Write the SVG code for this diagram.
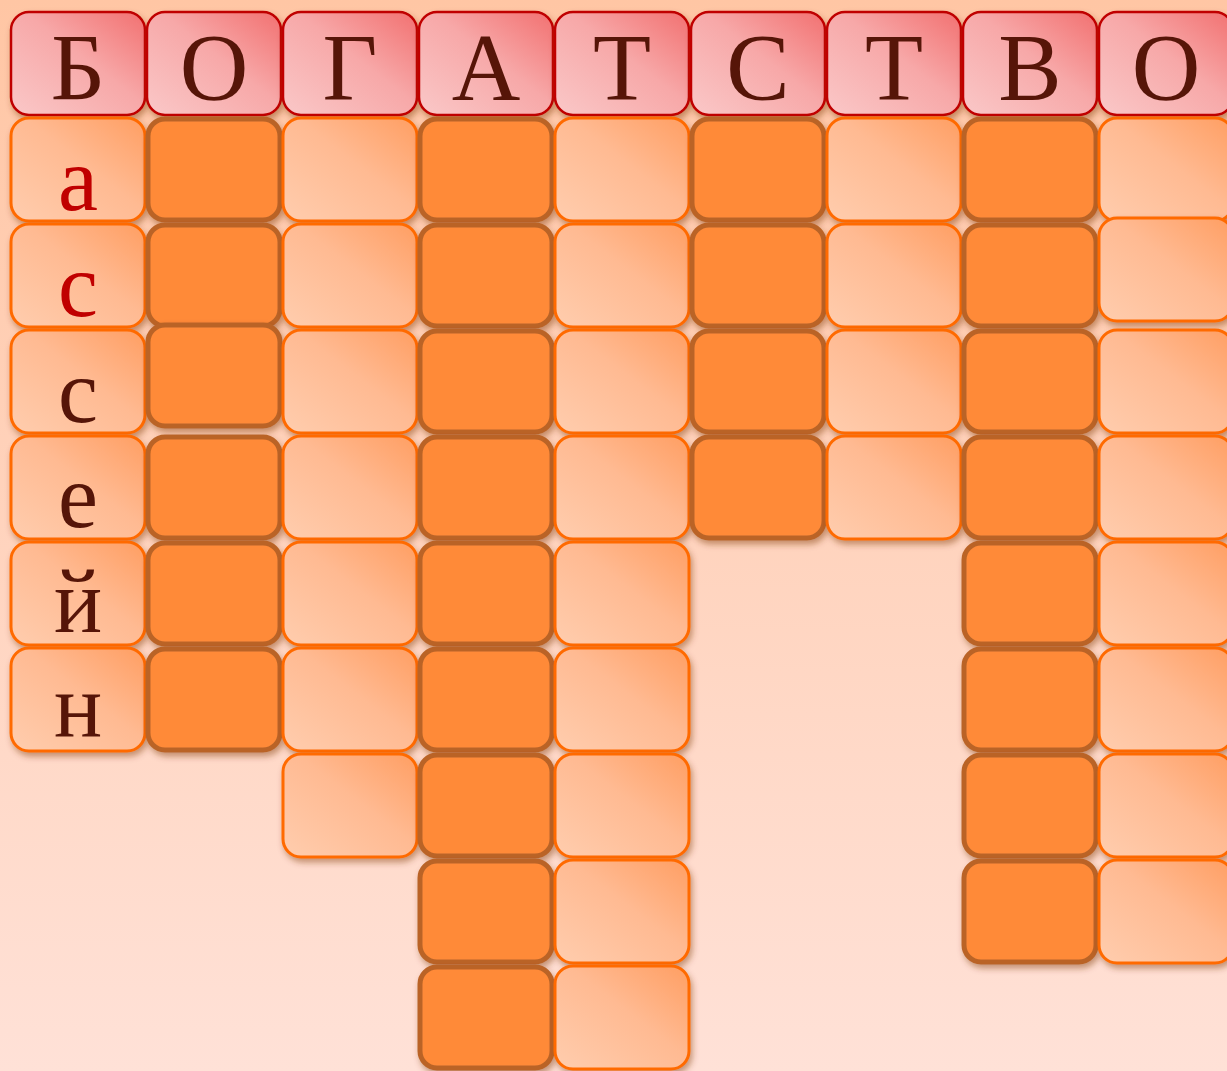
<svg xmlns="http://www.w3.org/2000/svg" width="1227" height="1071" viewBox="0 0 1227 1071">
<defs>
<linearGradient id="bg" x1="0" y1="0" x2="0" y2="1">
<stop offset="0" stop-color="#FFC6A4"/>
<stop offset="1" stop-color="#FFE1D7"/>
</linearGradient>
<linearGradient id="gHd" x1="0" y1="1" x2="1" y2="0">
<stop offset="0" stop-color="#FAC8C8"/>
<stop offset="0.55" stop-color="#F7A8A8"/>
<stop offset="1" stop-color="#F27070"/>
</linearGradient>
<linearGradient id="gLt" x1="0" y1="1" x2="1" y2="0">
<stop offset="0" stop-color="#FFCDAE"/>
<stop offset="0.55" stop-color="#FFBA92"/>
<stop offset="1" stop-color="#FF9E62"/>
</linearGradient>
<filter id="sh" x="-10%" y="-10%" width="130%" height="135%">
<feDropShadow dx="2" dy="4" stdDeviation="3" flood-color="#7a3010" flood-opacity="0.45"/>
</filter>
</defs>
<style>
.hd{fill:url(#gHd);stroke:#C00000;stroke-width:2.5;filter:url(#sh)}
.lt{fill:url(#gLt);stroke:#FF6A00;stroke-width:3;filter:url(#sh)}
.dk{fill:#FF8A38;stroke:#BA6428;stroke-width:5;filter:url(#sh)}
.L{font-family:"Liberation Serif","Times New Roman",serif;text-anchor:middle;fill:#561508}
.H{font-size:95px}
.S{font-size:90px}
.r{fill:#C00000}
</style>
<rect x="0" y="0" width="1227" height="1071" fill="url(#bg)"/>
<g id="connectors"/>
<g id="h0"><rect class="hd" x="11" y="12" width="134" height="103" rx="18"/><text class="L H" x="78" y="100">Б</text></g>
<g id="h1"><rect class="hd" x="147" y="12" width="134" height="103" rx="18"/><text class="L H" x="214" y="100">О</text></g>
<g id="h2"><rect class="hd" x="283" y="12" width="134" height="103" rx="18"/><text class="L H" x="350" y="100">Г</text></g>
<g id="h3"><rect class="hd" x="419" y="12" width="134" height="103" rx="18"/><text class="L H" x="486" y="100">А</text></g>
<g id="h4"><rect class="hd" x="555" y="12" width="134" height="103" rx="18"/><text class="L H" x="622" y="100">Т</text></g>
<g id="h5"><rect class="hd" x="691" y="12" width="134" height="103" rx="18"/><text class="L H" x="758" y="100">С</text></g>
<g id="h6"><rect class="hd" x="827" y="12" width="134" height="103" rx="18"/><text class="L H" x="894" y="100">Т</text></g>
<g id="h7"><rect class="hd" x="963" y="12" width="134" height="103" rx="18"/><text class="L H" x="1030" y="100">В</text></g>
<g id="h8"><rect class="hd" x="1099" y="12" width="134" height="103" rx="18"/><text class="L H" x="1166" y="100">О</text></g>
<g id="c0r0"><rect class="lt" x="11" y="118" width="134" height="103" rx="18"/><text class="L S r" x="78" y="210">а</text></g>
<g id="c0r1"><rect class="lt" x="11" y="224" width="134" height="103" rx="18"/><text class="L S r" x="78" y="316">с</text></g>
<g id="c0r2"><rect class="lt" x="11" y="330" width="134" height="103" rx="18"/><text class="L S" x="78" y="422">с</text></g>
<g id="c0r3"><rect class="lt" x="11" y="436" width="134" height="103" rx="18"/><text class="L S" x="78" y="527">е</text></g>
<g id="c0r4"><rect class="lt" x="11" y="542" width="134" height="103" rx="18"/><text class="L S" x="78" y="632">й</text></g>
<g id="c0r5"><rect class="lt" x="11" y="648" width="134" height="103" rx="18"/><text class="L S" x="78" y="737">н</text></g>
<g id="c1r0"><rect class="dk" x="148" y="119" width="132" height="101" rx="17"/></g>
<g id="c1r1"><rect class="dk" x="148" y="225" width="132" height="101" rx="17"/></g>
<g id="c1r2"><rect class="dk" x="148" y="325" width="132" height="101" rx="17"/></g>
<g id="c1r3"><rect class="dk" x="148" y="437" width="132" height="101" rx="17"/></g>
<g id="c1r4"><rect class="dk" x="148" y="543" width="132" height="101" rx="17"/></g>
<g id="c1r5"><rect class="dk" x="148" y="649" width="132" height="101" rx="17"/></g>
<g id="c2r0"><rect class="lt" x="283" y="118" width="134" height="103" rx="18"/></g>
<g id="c2r1"><rect class="lt" x="283" y="224" width="134" height="103" rx="18"/></g>
<g id="c2r2"><rect class="lt" x="283" y="330" width="134" height="103" rx="18"/></g>
<g id="c2r3"><rect class="lt" x="283" y="436" width="134" height="103" rx="18"/></g>
<g id="c2r4"><rect class="lt" x="283" y="542" width="134" height="103" rx="18"/></g>
<g id="c2r5"><rect class="lt" x="283" y="648" width="134" height="103" rx="18"/></g>
<g id="c2r6"><rect class="lt" x="283" y="754" width="134" height="103" rx="18"/></g>
<g id="c3r0"><rect class="dk" x="420" y="119" width="132" height="101" rx="17"/></g>
<g id="c3r1"><rect class="dk" x="420" y="225" width="132" height="101" rx="17"/></g>
<g id="c3r2"><rect class="dk" x="420" y="331" width="132" height="101" rx="17"/></g>
<g id="c3r3"><rect class="dk" x="420" y="437" width="132" height="101" rx="17"/></g>
<g id="c3r4"><rect class="dk" x="420" y="543" width="132" height="101" rx="17"/></g>
<g id="c3r5"><rect class="dk" x="420" y="649" width="132" height="101" rx="17"/></g>
<g id="c3r6"><rect class="dk" x="420" y="755" width="132" height="101" rx="17"/></g>
<g id="c3r7"><rect class="dk" x="420" y="861" width="132" height="101" rx="17"/></g>
<g id="c3r8"><rect class="dk" x="420" y="967" width="132" height="101" rx="17"/></g>
<g id="c4r0"><rect class="lt" x="555" y="118" width="134" height="103" rx="18"/></g>
<g id="c4r1"><rect class="lt" x="555" y="224" width="134" height="103" rx="18"/></g>
<g id="c4r2"><rect class="lt" x="555" y="330" width="134" height="103" rx="18"/></g>
<g id="c4r3"><rect class="lt" x="555" y="436" width="134" height="103" rx="18"/></g>
<g id="c4r4"><rect class="lt" x="555" y="542" width="134" height="103" rx="18"/></g>
<g id="c4r5"><rect class="lt" x="555" y="648" width="134" height="103" rx="18"/></g>
<g id="c4r6"><rect class="lt" x="555" y="754" width="134" height="103" rx="18"/></g>
<g id="c4r7"><rect class="lt" x="555" y="860" width="134" height="103" rx="18"/></g>
<g id="c4r8"><rect class="lt" x="555" y="966" width="134" height="103" rx="18"/></g>
<g id="c5r0"><rect class="dk" x="692" y="119" width="132" height="101" rx="17"/></g>
<g id="c5r1"><rect class="dk" x="692" y="225" width="132" height="101" rx="17"/></g>
<g id="c5r2"><rect class="dk" x="692" y="331" width="132" height="101" rx="17"/></g>
<g id="c5r3"><rect class="dk" x="692" y="437" width="132" height="101" rx="17"/></g>
<g id="c6r0"><rect class="lt" x="827" y="118" width="134" height="103" rx="18"/></g>
<g id="c6r1"><rect class="lt" x="827" y="224" width="134" height="103" rx="18"/></g>
<g id="c6r2"><rect class="lt" x="827" y="330" width="134" height="103" rx="18"/></g>
<g id="c6r3"><rect class="lt" x="827" y="436" width="134" height="103" rx="18"/></g>
<g id="c7r0"><rect class="dk" x="964" y="119" width="132" height="101" rx="17"/></g>
<g id="c7r1"><rect class="dk" x="964" y="225" width="132" height="101" rx="17"/></g>
<g id="c7r2"><rect class="dk" x="964" y="331" width="132" height="101" rx="17"/></g>
<g id="c7r3"><rect class="dk" x="964" y="437" width="132" height="101" rx="17"/></g>
<g id="c7r4"><rect class="dk" x="964" y="543" width="132" height="101" rx="17"/></g>
<g id="c7r5"><rect class="dk" x="964" y="649" width="132" height="101" rx="17"/></g>
<g id="c7r6"><rect class="dk" x="964" y="755" width="132" height="101" rx="17"/></g>
<g id="c7r7"><rect class="dk" x="964" y="861" width="132" height="101" rx="17"/></g>
<g id="c8r0"><rect class="lt" x="1099" y="118" width="134" height="103" rx="18"/></g>
<g id="c8r1"><rect class="lt" x="1099" y="218" width="134" height="103" rx="18"/></g>
<g id="c8r2"><rect class="lt" x="1099" y="330" width="134" height="103" rx="18"/></g>
<g id="c8r3"><rect class="lt" x="1099" y="436" width="134" height="103" rx="18"/></g>
<g id="c8r4"><rect class="lt" x="1099" y="542" width="134" height="103" rx="18"/></g>
<g id="c8r5"><rect class="lt" x="1099" y="648" width="134" height="103" rx="18"/></g>
<g id="c8r6"><rect class="lt" x="1099" y="754" width="134" height="103" rx="18"/></g>
<g id="c8r7"><rect class="lt" x="1099" y="860" width="134" height="103" rx="18"/></g>
</svg>
